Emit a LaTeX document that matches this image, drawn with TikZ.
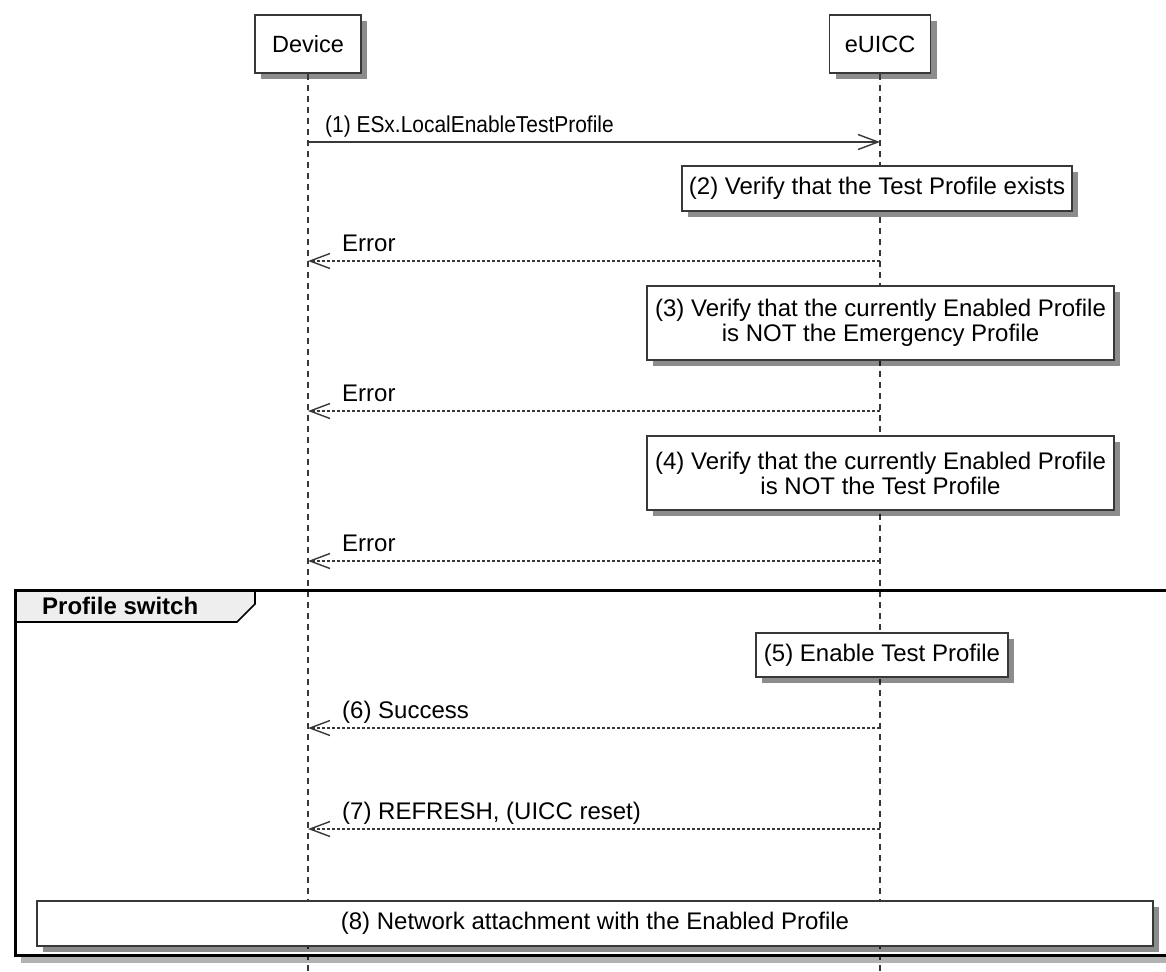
\documentclass[tikz,border=0pt]{standalone}
\usepackage{fontspec}
\usepackage{graphicx}
\setmainfont{Liberation Sans}
\usetikzlibrary{arrows.meta,shadows}
\definecolor{hdr}{HTML}{EEEEEE}
\definecolor{ln}{HTML}{383838}
\begin{document}
\begin{tikzpicture}[x=1pt,y=-1pt,
  font=\fontsize{24}{25}\selectfont,
  shd/.style={drop shadow={shadow xshift=6pt,shadow yshift=-6pt,opacity=0.45,fill=black}},
  part/.style={draw=ln,line width=1.6pt,fill=white,shd,minimum height=58pt,inner sep=0pt,font=\fontsize{23.5}{25}\selectfont},
  life/.style={draw=ln,line width=1.2pt,dash pattern=on 6pt off 5pt},
  note/.style={draw=ln,line width=1.3pt,fill=white,shd,inner sep=0pt,align=center},
  msg/.style={draw=ln,line width=1.4pt,-{Straight Barb[length=20pt,width=15pt,line width=1.4pt]}},
  ret/.style={msg,dash pattern=on 3pt off 2pt},
  lbl/.style={inner sep=0pt,anchor=base west},
  frm/.style={draw=black,line width=3pt}
]
\useasboundingbox (0,0) rectangle (1166,971);
\clip (0,0) rectangle (1166,971);
\def\dx{308}
\def\ux{880}
% participants
\node[part,minimum width=106pt] (dev) at (\dx,44) {Device};
\node[part,minimum width=101pt] (eu) at (\ux,44) {eUICC};
\coordinate (devend) at (\dx,971);
\coordinate (euend) at (\ux,971);
\draw[life] (dev.south) -- (devend);
\draw[life] (eu.south) -- (euend);
% message 1
\coordinate (m1a) at (\dx,142);
\coordinate (m1b) at (\ux,142);
\draw[msg] (m1a) -- (m1b);
\node[lbl,font=\fontsize{23}{25}\selectfont] (l1) at (325,132) {\scalebox{0.91}[1]{(1) ESx.LocalEnableTestProfile}};
% note 2
\node[note,minimum width=390pt,minimum height=45pt] (n2) at (877,188.5) {(2) Verify that the Test Profile exists};
% error 1
\coordinate (e1a) at (\ux,261);
\coordinate (e1b) at (\dx,261);
\draw[ret] (e1a) -- (e1b);
\node[lbl] (le1) at (342,251) {Error};
% note 3
\node[note,minimum width=467pt,minimum height=74pt] (n3) at (880.5,323) {(3) Verify that the currently Enabled Profile\\is NOT the Emergency Profile};
% error 2
\coordinate (e2a) at (\ux,411);
\coordinate (e2b) at (\dx,411);
\draw[ret] (e2a) -- (e2b);
\node[lbl] (le2) at (342,401) {Error};
% note 4
\node[note,minimum width=467pt,minimum height=74pt] (n4) at (880.5,473) {(4) Verify that the currently Enabled Profile\\is NOT the Test Profile};
% error 3
\coordinate (e3a) at (\ux,561);
\coordinate (e3b) at (\dx,561);
\draw[ret] (e3a) -- (e3b);
\node[lbl] (le3) at (342,551) {Error};
% group frame
\draw[line width=6pt,black,opacity=0.3] (21,959.5) -- (1190,959.5);
\draw[frm] (15,590) rectangle (1185,955);
\draw[draw=black,line width=1.6pt,fill=hdr] (15,590) -- (255,590) -- (255,604) -- (237,622) -- (15,622) -- cycle;
\draw[frm] (15,590) -- (1185,590);
\draw[frm] (15,590) -- (15,955);
\node[lbl,font=\fontsize{24}{25}\selectfont\bfseries] (gh) at (42,614) {Profile switch};
% note 5
\node[note,minimum width=252pt,minimum height=44pt] (n5) at (882,655) {(5) Enable Test Profile};
% success
\coordinate (s6a) at (\ux,728);
\coordinate (s6b) at (\dx,728);
\draw[ret] (s6a) -- (s6b);
\node[lbl] (l6) at (342,718) {(6) Success};
% refresh
\coordinate (s7a) at (\ux,829);
\coordinate (s7b) at (\dx,829);
\draw[ret] (s7a) -- (s7b);
\node[lbl] (l7) at (342,819) {(7) REFRESH, (UICC reset)};
% note 8
\node[note,minimum width=1116pt,minimum height=45pt] (n8) at (595,923.5) {(8) Network attachment with the Enabled Profile};
\end{tikzpicture}
\end{document}
